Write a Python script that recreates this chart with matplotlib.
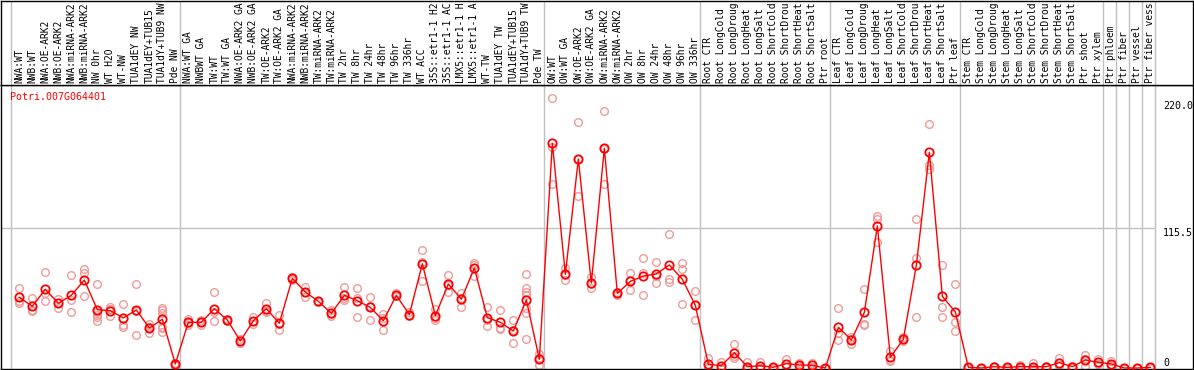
import numpy as np
import matplotlib
matplotlib.use('Agg')
import matplotlib.pyplot as plt

gene = 'Potri.007G064401'

# sample names, left to right
labels = [
    'NWA:WT', 'NWB:WT', 'NWA:OE-ARK2', 'NWB:OE-ARK2', 'NWA:miRNA-ARK2', 'NWB:miRNA-ARK2',
    'NW 0hr', 'WT H2O', 'WT-NW', 'TUA1dEY NW', 'TUA1dEY+TUB15', 'TUA1dY+TUB9 NW', 'Pde NW',
    'NWA:WT GA', 'NWBWT GA', 'TW:WT', 'TW:WT GA', 'NWA:OE-ARK2 GA', 'NWB:OE-ARK2 GA',
    'TW:OE-ARK2', 'TW:OE-ARK2 GA', 'NWA:miRNA-ARK2 GA', 'NWB:miRNA-ARK2 GA', 'TW:miRNA-ARK2',
    'TW:miRNA-ARK2 GA', 'TW 2hr', 'TW 8hr', 'TW 24hr', 'TW 48hr', 'TW 96hr', 'TW 336hr',
    'WT ACC', '35S::etr1-1 H2O', '35S::etr1-1 ACC', 'LMX5::etr1-1 H2O', 'LMX5::etr1-1 ACC',
    'WT-TW', 'TUA1dEY TW', 'TUA1dEY+TUB15', 'TUA1dY+TUB9 TW', 'Pde TW',
    'OW:WT', 'OW:WT GA', 'OW:OE-ARK2', 'OW:OE-ARK2 GA', 'OW:miRNA-ARK2', 'OW:miRNA-ARK2 GA',
    'OW 2hr', 'OW 8hr', 'OW 24hr', 'OW 48hr', 'OW 96hr', 'OW 336hr',
    'Root CTR', 'Root LongCold', 'Root LongDrought', 'Root LongHeat', 'Root LongSalt',
    'Root ShortCold', 'Root ShortDrought', 'Root ShortHeat', 'Root ShortSalt', 'Ptr root',
    'Leaf CTR', 'Leaf LongCold', 'Leaf LongDrought', 'Leaf LongHeat', 'Leaf LongSalt',
    'Leaf ShortCold', 'Leaf ShortDrought', 'Leaf ShortHeat', 'Leaf ShortSalt', 'Ptr leaf',
    'Stem CTR', 'Stem LongCold', 'Stem LongDrought', 'Stem LongHeat', 'Stem LongSalt',
    'Stem ShortCold', 'Stem ShortDrought', 'Stem ShortHeat', 'Stem ShortSalt', 'Ptr shoot',
    'Ptr xylem', 'Ptr phloem', 'Ptr fiber', 'Ptr vessel', 'Ptr fiber vessel',
]

# number of samples in each block between the grey separators
group_sizes = [13, 28, 12, 10, 10, 11, 1, 1, 1, 1]

means = [
    58.3, 50.9, 64.9, 53.4, 60.0, 72.6, 48.1, 47.3, 41.3, 47.9, 33.0, 40.2, 3.3,
    37.7, 37.7, 48.9, 39.6, 22.3, 39.0, 48.9, 36.9, 74.0, 62.7, 55.0, 45.1, 60.0, 55.5,
    50.0, 39.0, 60.0, 44.0, 86.0, 43.2, 69.3, 56.7, 82.5, 41.5, 37.7, 30.5, 56.1, 7.2,
    185.4, 77.3, 172.4, 70.1, 181.3, 61.6, 71.5, 75.9, 77.6, 85.0, 73.2, 51.7,
    3.0, 1.9, 12.6, 1.1, 1.9, 0.6, 3.6, 2.5, 2.2, 0.0,
    33.6, 23.1, 45.9, 117.2, 8.8, 23.7, 84.7, 178.0, 59.1, 46.2,
    0.6, 0.0, 1.1, 0.5, 1.1, 1.1, 1.1, 4.4, 1.1, 6.6, 4.7,
    3.3, 0.0, 0.0, 0.5,
]

replicates = [
    [65.8, 55, 54], [57.5, 47.9, 47], [79, 61.6, 55], [56.9, 49.2, 54],
    [76.7, 56.4, 45.9], [81.4, 78.7, 59.1], [69.3, 46.5, 43.7, 39, 42],
    [50.6, 42.9, 48.4], [52.8, 35.5, 33.6], [69.3, 27, 47.4], [36, 28.6, 34],
    [49.8, 47.9, 45.7, 34.1, 30, 33], [3.5, 2.5, 4],
    [40.7, 36.9, 35.5], [39.6, 35.5, 38], [62.7, 45.9, 38.5], [40.7, 38.5, 39.6],
    [24, 20.4, 22.5], [42.3, 36.5, 38.5], [53.9, 45.9, 47], [43.7, 31.1, 36],
    [75.3, 73, 73.5], [67.1, 58.3, 62.7], [55, 55.5, 54.5], [47.9, 42.9, 44.5],
    [66.6, 56.1, 57.5], [65.8, 41.8, 57.5], [58.8, 39.6, 51.5], [44.3, 31.4, 41.3],
    [61.5, 59, 59.5], [45.9, 42.5, 43.6], [97.1, 87.7, 71.5], [48.9, 41.3, 39.5],
    [76.7, 62.7, 68.5], [62.1, 50.6, 57.4], [86.9, 75.9, 84.7], [50, 34.9, 39.6],
    [47.9, 31.9, 33.3], [39.6, 20.4, 31.5], [77.3, 65.8, 63, 60.5, 49.2, 45.1, 23.9],
    [11.3, 2.2, 8],
    [222.5, 182.6, 151.6], [82.8, 72.4, 76.7], [202.7, 141.9, 172.6], [75.3, 65.8, 69.3],
    [212, 151.6, 180.3], [62.5, 60.5, 61.8], [78.1, 64.1, 72.3], [90.5, 78.1, 60.2],
    [87.2, 69.9, 75.8], [110.6, 73.2, 71.2], [86.6, 81.4, 52.8], [63.8, 39.6, 51.7],
    [8.5, 0.5, 0.2], [5.2, 0.3, 0.2], [19.5, 8, 10.3], [5.0, 0.1, 0], [5.2, 0.3, 0.2],
    [1.2, 0.3, 0.3], [7.2, 2, 1.6], [4.4, 1.8, 1.3], [4.4, 1.2, 1], [0, 0, 0],
    [49.8, 28.6, 22.8], [25.8, 19.8, 23.7], [64.9, 36, 35.5], [125.4, 122.7, 103.7],
    [14, 5.8, 6.6], [25.5, 22, 23.6], [122.7, 90.5, 41.8], [201, 167.5, 163.9],
    [84.7, 50.6, 41.8], [69.1, 37.7, 30.5],
    [0.8, 0.5, 0.4], [0, 0, 0], [2, 0.8, 0.5], [0.8, 0.4, 0.3], [2.5, 0.5, 0.3],
    [4.5, 0, 0], [1.8, 0.8, 0.7], [8.5, 2.5, 2.2], [1.5, 1, 0.8], [10.7, 1.7, 7.4],
    [7.2, 3.5, 3.4], [5.8, 2, 2.1], [0, 0, 0], [0, 0, 0], [0.8, 0.4, 0.3],
]

ytick_values = [220.0, 115.5, 0]
ytick_text = ['220.0', '115.5', '0']

MONO = 'DejaVu Sans Mono'
GREY = '#c0c0c0'
MAXCHARS = 14   # the header only has room for this many characters


def main():
    W, H = 1194, 370
    fig = plt.figure(figsize=(W / 100, H / 100), dpi=100)
    ax = fig.add_axes([1 / W, 1 / H, 1192 / W, 284 / H])
    hdr = fig.add_axes([1 / W, 285 / H, 1192 / W, 84.5 / H])

    x = np.arange(len(labels))
    xlim = (-1.41, 90.28)
    ax.set_xlim(*xlim)
    ax.set_ylim(-0.83, 233.5)
    hdr.set_xlim(*xlim)
    hdr.set_ylim(0, 85)

    # grey separators between blocks
    starts = np.cumsum([0] + group_sizes)
    seps = starts - 0.64
    for a in (ax, hdr):
        for s in seps:
            a.axvline(s, color=GREY, lw=1, zorder=1)
    ax.hlines(115.5, xlim[0], seps[-1], color=GREY, lw=1, zorder=1)

    # replicate circles
    rx = [i for i, r in enumerate(replicates) for _ in r]
    ry = [v for r in replicates for v in r]
    ax.plot(rx, ry, 'o', mfc='none', mec='#f09a9a', ms=5.5, mew=1, zorder=2)

    # mean line
    ax.plot(x, means, '-', color='red', lw=1, marker='o', mfc='none',
            mec='red', ms=6, mew=1.3, zorder=3)

    for v, t in zip(ytick_values, ytick_text):
        va = 'bottom' if v == 0 else 'top'
        ax.text(87.98, v, t, ha='left', va=va, fontsize=7.2, family=MONO)

    fig.text(10 / W, 1 - 92 / H, gene, ha='left', va='top', fontsize=7.2,
             family=MONO, color='red')

    for i, lab in enumerate(labels):
        hdr.text(i, 2.5, lab[:MAXCHARS].rstrip(), rotation=90, ha='center',
                 va='bottom', fontsize=6.9, family=MONO)

    for a in (ax, hdr):
        a.set_xticks([])
        a.set_yticks([])
        for sp in a.spines.values():
            sp.set_color('black')
            sp.set_linewidth(1)

    fig.savefig('out.png', dpi=100)


if __name__ == '__main__':
    main()
